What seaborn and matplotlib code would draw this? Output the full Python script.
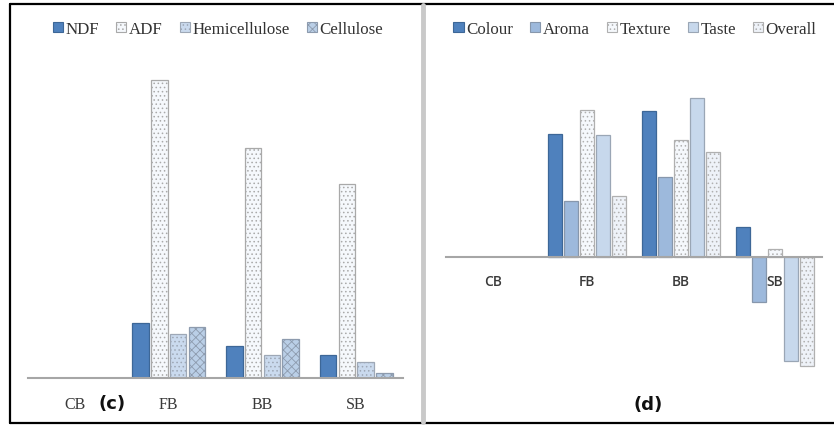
import matplotlib
matplotlib.use("Agg")
from matplotlib import pyplot as plt
from matplotlib.patches import Patch
from matplotlib.lines import Line2D
import pandas as pd
import seaborn as sns

# Data (arbitrary units, estimated)
categories = ["CB", "FB", "BB", "SB"]

fibre_series = ["NDF", "ADF", "Hemicellulose", "Cellulose"]
ndf = [0, 55, 32, 23]
adf = [0, 298, 230, 194]
hemicellulose = [0, 44, 23, 16]
cellulose = [0, 51, 39, 5]

sensory_series = ["Colour", "Aroma", "Texture", "Taste", "Overall"]
colour = [0, 123, 146, 30]
aroma = [0, 56, 80, -45]
texture = [0, 147, 117, 8]
taste = [0, 122, 159, -104]
overall = [0, 61, 105, -109]

# (face, hatch, edge)
fibre_styles = [("#4F81BD", "", "#3D6797"),
                ("#F5F8FC", "....", "#A9A9A9"),
                ("#CADAEE", "....", "#9EA8B6"),
                ("#BACFE7", "xxxx", "#8D9BAE")]
sensory_styles = [("#4F81BD", "", "#3D6797"),
                  ("#9DB9DC", "", "#8797AC"),
                  ("#F5F8FC", "....", "#B0B0B0"),
                  ("#C7D8EC", "", "#9AA6B5"),
                  ("#EEF2F8", "....", "#B0B0B0")]


def long_table(series, values):
    rows = []
    for name, vals in zip(series, values):
        for cat, v in zip(categories, vals):
            rows.append({"cat": cat, "series": name, "value": v})
    return pd.DataFrame(rows)


def draw_panel(ax, df, series, styles, width, ylim, tick_font, tick_size, tick_weight, pad):
    sns.barplot(data=df, x="cat", y="value", hue="series", order=categories,
                hue_order=series, ax=ax, width=width, gap=0.12, legend=False)
    for cont, (face, hatch, edge) in zip(ax.containers, styles):
        for bar in cont:
            bar.set_facecolor(face)
            bar.set_hatch(hatch)
            bar.set_edgecolor(edge)
            bar.set_linewidth(0.9)
            if bar.get_height() == 0:
                bar.set_visible(False)
    ax.set_ylim(*ylim)
    ax.set_xlim(-0.5, len(categories) - 0.5)
    ax.set_xlabel("")
    ax.set_ylabel("")
    ax.set_yticks([])
    for s in ["top", "left", "right"]:
        ax.spines[s].set_visible(False)
    ax.spines["bottom"].set_position(("data", 0))
    ax.spines["bottom"].set_color("#A6A6A6")
    ax.spines["bottom"].set_linewidth(1.5)
    ax.tick_params(axis="x", length=0, pad=pad, colors="#3A3A3A")
    for lab in ax.get_xticklabels():
        lab.set_fontfamily(tick_font)
        lab.set_fontsize(tick_size)
        lab.set_fontweight(tick_weight)
    ax.set_facecolor("none")


sns.set_style("white")
plt.rcParams["hatch.linewidth"] = 0.6

W, H = 834, 427
fig = plt.figure(figsize=(W / 100, H / 100), dpi=100)
fig.patch.set_facecolor("white")

# left panel (c)
ax1 = fig.add_axes([28 / W, (H - 379) / H, 375 / W, 309 / H])
draw_panel(ax1, long_table(fibre_series, [ndf, adf, hemicellulose, cellulose]),
           fibre_series, fibre_styles, 0.8, (0, 309), "Liberation Serif", 11.5, "normal", 13)

# right panel (d)
ax2 = fig.add_axes([446 / W, (H - 373) / H, 376 / W, 280 / H])
draw_panel(ax2, long_table(sensory_series, [colour, aroma, texture, taste, overall]),
           sensory_series, sensory_styles, 0.84, (-115, 165), "Open Sans", 10, "semibold", 12)


def make_handles(series, styles):
    return [Patch(facecolor=f, hatch=h, edgecolor=e, linewidth=0.8, label=n)
            for n, (f, h, e) in zip(series, styles)]


leg_kw = dict(loc="center", frameon=False, handlelength=0.6, handleheight=0.6,
              handletextpad=0.15, columnspacing=1.0,
              prop={"family": "Liberation Serif", "size": 12.2}, labelcolor="#333333")
fig.legend(handles=make_handles(fibre_series, fibre_styles), ncol=4,
           bbox_to_anchor=(218 / W, 1 - 30 / H), **leg_kw)
fig.legend(handles=make_handles(sensory_series, sensory_styles), ncol=5,
           bbox_to_anchor=(635 / W, 1 - 30 / H), **leg_kw)

# panel letters
fig.text(112 / W, 1 - 404 / H, "(c)", ha="center", va="center",
         fontsize=13, fontweight="heavy", family="DejaVu Sans", color="#111111")
fig.text(648 / W, 1 - 405 / H, "(d)", ha="center", va="center",
         fontsize=13, fontweight="heavy", family="DejaVu Sans", color="#111111")

# frame and divider
fig.add_artist(Line2D([10 / W, 1], [1 - 5 / H, 1 - 5 / H], color="black", lw=1.6))
fig.add_artist(Line2D([10 / W, 1], [1 - 424 / H, 1 - 424 / H], color="black", lw=1.6))
fig.add_artist(Line2D([10 / W, 10 / W], [1 - 5 / H, 1 - 424 / H], color="black", lw=1.6))
fig.add_artist(Line2D([423 / W, 423 / W], [1 - 6 / H, 1 - 423 / H], color="#C9C9C9", lw=3.5))

fig.savefig("out.png", dpi=100)
